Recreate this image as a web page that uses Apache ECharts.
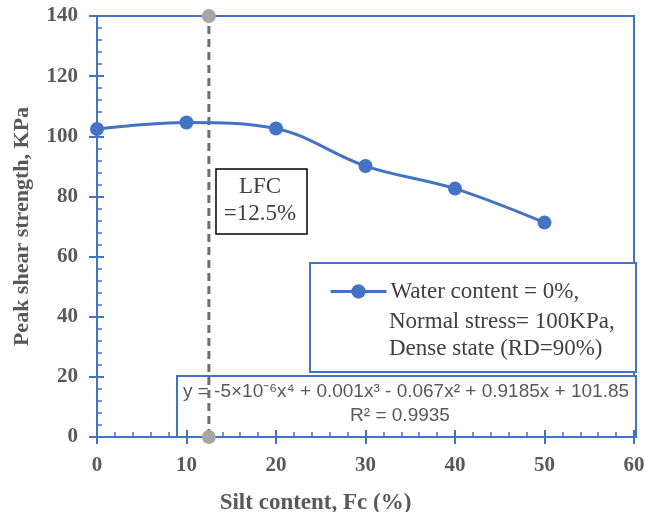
<!DOCTYPE html>
<html><head><meta charset="utf-8">
<script src="https://cdn.jsdelivr.net/npm/echarts@6/dist/echarts.min.js"></script>
<style>html,body{margin:0;padding:0;background:#fff}#c{width:659px;height:512px}</style>
</head><body><div id="c"></div>
<script>
const siltContent = [0, 10, 20, 30, 40, 50];
const peakStrength = [102.4, 104.6, 102.6, 90.1, 82.6, 71.3];
const lfcX = [12.5, 12.5];
const lfcY = [0, 140];
const legendLines = ['Water content = 0%,', 'Normal stress= 100KPa,', 'Dense state (RD=90%)'];
const equationText = 'y = -5×10⁻⁶x⁴ + 0.001x³ - 0.067x² + 0.9185x + 101.85';
const r2Text = 'R² = 0.9935';
const lfcText = ['LFC', '=12.5%'];

const blue = '#4472C4';
const serif = '"Liberation Serif", "DejaVu Serif", serif';
const sans = '"Liberation Sans", Arial, sans-serif';
const labelStyle = {fontFamily: serif, fontWeight: 'bold', fontSize: 21, color: '#595959'};

const chart = echarts.init(document.getElementById('c'));
const baseX = {type: 'value', min: 0, max: 60, interval: 10, splitLine: {show: false}, z: 4};
const baseY = {type: 'value', min: 0, max: 140, interval: 20, splitLine: {show: false}, z: 4};
chart.setOption({
  animation: false,
  grid: {left: 97, right: 25, top: 16, bottom: 75, show: true, borderColor: blue, borderWidth: 2,
         containLabel: false, outerBoundsMode: 'none'},
  xAxis: [
    Object.assign({}, baseX, {
      axisLine: {lineStyle: {color: blue, width: 2}},
      axisTick: {show: true, length: 7, lineStyle: {color: blue, width: 2}},
      axisLabel: Object.assign({margin: 18}, labelStyle),
      name: 'Silt content, Fc (%)', nameLocation: 'middle', nameGap: 55,
      nameTextStyle: {fontFamily: serif, fontWeight: 'bold', fontSize: 23, color: '#595959', padding: [0, 100, 0, 0]}
    }),
    Object.assign({}, baseX, {
      position: 'bottom',
      axisLine: {show: false},
      axisTick: {show: true, inside: true, length: 7, lineStyle: {color: blue, width: 2}},
      minorTick: {show: true, splitNumber: 5, length: 5, lineStyle: {color: blue, width: 1.5}},
      axisLabel: {show: false}
    })
  ],
  yAxis: [
    Object.assign({}, baseY, {
      axisLine: {show: true, lineStyle: {color: blue, width: 2}},
      axisTick: {show: true, length: 8, lineStyle: {color: blue, width: 2}},
      axisLabel: Object.assign({margin: 19}, labelStyle),
      name: 'Peak shear strength, KPa', nameLocation: 'middle', nameGap: 64,
      nameTextStyle: {fontFamily: serif, fontWeight: 'bold', fontSize: 22, color: '#595959'}
    }),
    Object.assign({}, baseY, {
      position: 'left',
      axisLine: {show: false},
      axisTick: {show: true, inside: true, length: 7, lineStyle: {color: blue, width: 2}},
      minorTick: {show: true, splitNumber: 5, length: 5, lineStyle: {color: blue, width: 1.5}},
      axisLabel: {show: false}
    })
  ],
  legend: {
    data: ['main'],
    formatter: () => legendLines[0],
    left: 329, top: 280, padding: 0, z: 8,
    itemWidth: 56, itemHeight: 18, itemGap: 4,
    lineStyle: {width: 3},
    textStyle: {fontFamily: serif, fontSize: 23, color: '#404040', padding: [0, 0, 0, -1]}
  },
  series: [
    {
      name: 'main', type: 'line', data: siltContent.map((x, i) => [x, peakStrength[i]]),
      smooth: 0.35, symbol: 'circle', symbolSize: 14,
      itemStyle: {color: blue}, lineStyle: {color: blue, width: 3}, z: 6
    },
    {
      name: 'lfc', type: 'line', data: lfcX.map((x, i) => [x, lfcY[i]]),
      symbol: 'circle', symbolSize: 14, clip: false,
      itemStyle: {color: '#a6a6a6'}, lineStyle: {color: '#6e6e6e', width: 3, type: [8, 5]}, z: 5
    }
  ],
  graphic: [
    {type: 'rect', shape: {x: 310, y: 263, width: 326, height: 109}, style: {fill: '#fff', stroke: blue, lineWidth: 2}, z: 1},
    {type: 'text', x: 389, y: 308, style: {text: legendLines[1] + '\n' + legendLines[2], fontFamily: serif, fontSize: 23, lineHeight: 27, fill: '#404040'}, z: 8},
    {type: 'rect', shape: {x: 177, y: 376, width: 459, height: 61}, style: {fill: '#fff', stroke: blue, lineWidth: 2}, z: 1},
    {type: 'text', x: 406, y: 392, style: {text: equationText, align: 'center', verticalAlign: 'middle', fontFamily: sans, fontSize: 19, fill: '#595959'}, z: 8},
    {type: 'text', x: 400, y: 416, style: {text: r2Text, align: 'center', verticalAlign: 'middle', fontFamily: sans, fontSize: 19, fill: '#595959'}, z: 8},
    {type: 'rect', shape: {x: 216, y: 169, width: 91, height: 65}, style: {fill: '#fff', stroke: '#000', lineWidth: 1.5}, z: 1},
    {type: 'text', x: 260, y: 187, style: {text: lfcText[0], align: 'center', verticalAlign: 'middle', fontFamily: serif, fontSize: 23, fill: '#404040'}, z: 8},
    {type: 'text', x: 260, y: 214, style: {text: lfcText[1], align: 'center', verticalAlign: 'middle', fontFamily: serif, fontSize: 23, fill: '#404040'}, z: 8}
  ]
});
</script></body></html>
